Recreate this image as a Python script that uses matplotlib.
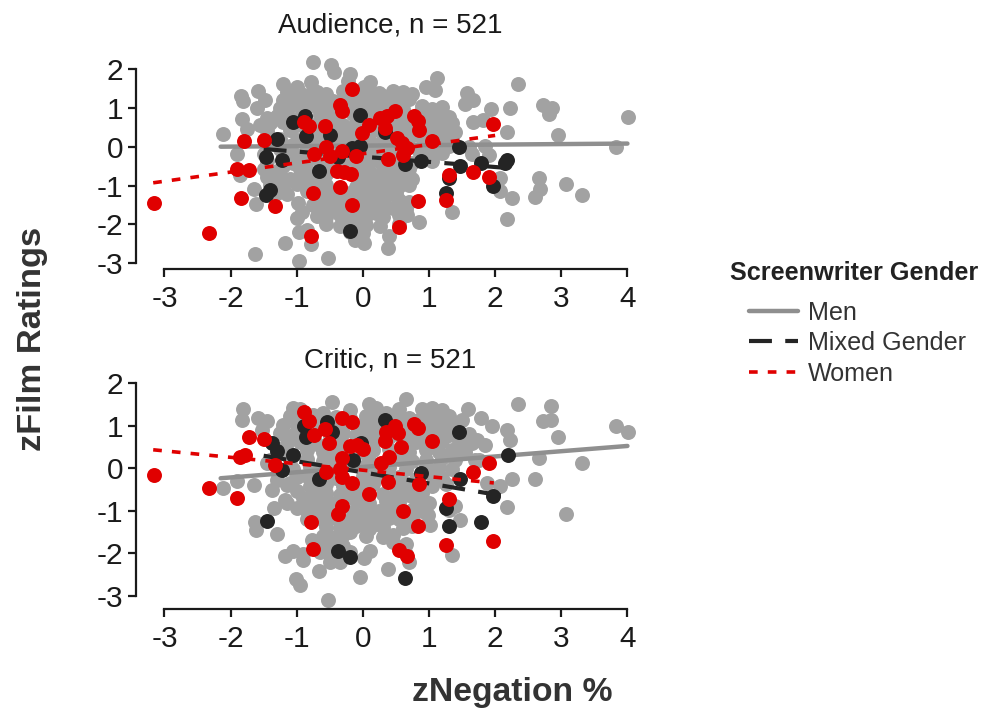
import matplotlib
matplotlib.use("Agg")
import matplotlib.pyplot as plt

plt.rcParams['font.family'] = ['Liberation Sans', 'DejaVu Sans']

# women and mixed gender films
women_audience = [(-3.16,-1.44),(-2.33,-2.22),(-1.84,-1.31),(-1.33,-1.52),(-1.80,0.15),(-1.50,0.17),(-1.90,-0.58),(-1.72,-0.61),
    (-0.89,0.63),(-0.82,0.54),(-0.58,0.54),(-0.34,1.08),(-0.32,0.93),(-0.17,1.49),(-0.74,-0.19),(-0.55,0),(-0.50,-0.23),(-0.32,-0.12),
    (-0.11,-0.23),(-0.39,-0.62),(-0.29,-0.66),(-0.18,-0.70),(-0.34,-1.05),(-0.76,-1.20),(-0.17,-1.49),(-0.78,-2.29),(-0.02,0.35),(0.10,0.55),
    (0.26,0.74),(0.36,0.80),(0.48,0.93),(0.34,0.48),(0.51,0.22),(0.59,0.09),(0.67,-0.03),(0.61,-0.21),(0.38,-0.31),(0.77,0.78),
    (0.83,0.65),(0.85,0.44),(1.04,0.14),(0.83,-1.41),(0.55,-2.08),(1.30,-0.72),(1.25,-1.38),(1.66,-0.64),(1.91,-0.79),(1.96,0.58)]
mixed_audience = [(-1.06,0.63),(-0.88,0.80),(-0.86,0.27),(-0.49,0.31),(-1.30,0.21),(-1.47,-0.27),(-1.23,-0.35),(-0.66,-0.62),(-1.40,-1.11),
    (-1.46,-1.24),(-0.04,0.82),(-0.04,0.01),(-0.17,-0.03),(-0.37,-0.27),(0.33,0.37),(0.63,-0.45),(0.88,-0.38),(1.45,-0.01),(1.47,-0.51),
    (1.79,-0.42),(2.18,-0.35),(2.15,-0.42),(1.96,-1.00),(1.30,-0.81),(1.25,-1.18),(-0.19,-2.16)]
men_audience = [(-0.76,2.17),(-0.48,2.11),(-0.43,1.92),(-0.19,1.87),(-0.22,1.68),(-1.20,1.62),(-1.00,1.55),(-0.78,1.67),(-0.75,1.47),(0.11,1.66),
    (0.01,1.55),(1.12,1.77),(0.96,1.53),(1.09,1.47),(2.35,1.62),(-1.84,1.31),(-1.81,1.17),(-1.58,1.43),(-1.48,1.21),(-1.60,1.00),(1.58,1.38),
    (1.67,1.21),(1.54,1.10),(1.94,0.98),(2.23,1.00),(2.73,1.07),(2.86,1.00),(2.82,0.85),(4.01,0.77),(-1.82,0.72),(-1.45,0.74),(-1.55,0.57),
    (-1.75,0.46),(-2.12,0.32),(1.67,0.63),(1.82,0.70),(2.18,0.38),(2.95,0.31),(3.82,-0.01),(-1.90,-0.19),(-1.86,-0.72),(-1.64,-1.08),(-1.62,-1.48),
    (2.66,-0.81),(2.68,-1.08),(2.60,-1.30),(3.07,-0.96),(3.32,-1.24),(2.08,-0.81),(2.08,-1.15),(2.26,-1.32),(2.18,-1.86),(1.35,-1.69),(0.85,-1.95),
    (0.67,-1.75),(0.38,-2.61),(0.40,-2.31),(0.26,-2.05),(0.01,-2.47),(-0.12,-2.40),(-0.53,-2.87),(-0.96,-2.94),(-1.63,-2.77),(-1.18,-2.48),(-0.78,-2.50),
    (-0.97,-2.20),(-0.85,-2.14),(-1.00,-1.84),(-0.92,-1.67),(-0.98,-1.45),
    (-1.15,1.42),(-0.95,1.38),(-0.7,1.41),(-0.55,1.36),(-0.3,1.44),(-0.1,1.39),(0.1,1.42),(0.25,1.37),(0.45,1.43),(0.6,1.4),
    (-1.2,1.2),(-1.05,1.24),(-0.85,1.18),(-0.6,1.22),(-0.45,1.17),(-0.15,1.23),(0.05,1.19),(0.2,1.21),(0.4,1.25),(0.55,1.18),(0.7,1.22),
    (-1.25,1.0),(-1.1,1.04),(-0.9,0.98),(-0.7,1.03),(-0.55,0.97),(-0.2,1.02),(0.0,0.99),(0.15,1.05),(0.35,1.0),(0.6,0.96),(0.9,1.04),(1.05,0.98),(1.2,1.03),
    (-1.3,0.8),(-1.15,0.84),(-0.95,0.77),(-0.65,0.82),(-0.45,0.79),(-0.15,0.83),(0.1,0.78),(0.25,0.85),(0.55,0.76),(0.85,0.83),(1.0,0.79),(1.2,0.82),(1.3,0.77),
    (-1.4,0.6),(-1.2,0.63),(-0.7,0.58),(-0.5,0.62),(-0.3,0.57),(-0.05,0.61),(0.2,0.64),(0.45,0.58),(0.65,0.6),(0.95,0.63),(1.15,0.57),(1.35,0.62),
    (-1.45,0.4),(-1.1,0.43),(-0.85,0.38),(-0.55,0.44),(-0.35,0.37),(-0.1,0.41),(0.15,0.44),(0.55,0.37),(0.75,0.42),(1.0,0.38),(1.2,0.43),(1.4,0.39),
    (-1.25,0.2),(-1.0,0.17),(-0.7,0.23),(-0.4,0.18),(-0.2,0.22),(0.1,0.17),(0.3,0.21),(0.5,0.16),(0.7,0.23),(0.95,0.19),(1.15,0.22),(1.35,0.18),
    (-1.1,0.02),(-0.85,-0.03),(-0.6,0.03),(-0.3,-0.02),(0.0,0.03),(0.2,-0.03),(0.45,0.02),(0.7,-0.02),(0.9,0.03),(1.1,-0.03),(1.3,0.02),(1.6,-0.01),(1.85,0.02),
    (-1.5,-0.18),(-1.0,-0.22),(-0.8,-0.17),(-0.15,-0.21),(0.1,-0.18),(0.3,-0.23),(0.55,-0.19),(0.95,-0.22),(1.2,-0.17),(1.65,-0.2),(1.9,-0.22),
    (-1.45,-0.38),(-1.05,-0.42),(-0.85,-0.37),(-0.55,-0.43),(-0.2,-0.38),(0.05,-0.42),(0.25,-0.37),(0.5,-0.41),(0.75,-0.43),(1.05,-0.38),
    (-1.5,-0.58),(-1.3,-0.62),(-0.95,-0.57),(-0.85,-0.63),(-0.1,-0.58),(0.1,-0.62),(0.3,-0.57),(0.55,-0.62),(0.7,-0.58),
    (-1.45,-0.78),(-1.1,-0.82),(-0.95,-0.77),(-0.8,-0.83),(-0.1,-0.79),(0.15,-0.77),(0.3,-0.82),(0.6,-0.78),(0.75,-0.83),
    (-1.4,-0.98),(-1.2,-1.03),(-1.0,-0.97),(-0.75,-1.02),(-0.55,-0.98),(-0.1,-1.03),(0.25,-0.97),(0.55,-1.02),(0.7,-0.98),
    (-1.3,-1.18),(-1.15,-1.22),(-0.6,-1.17),(-0.4,-1.23),(-0.2,-1.18),(0.05,-1.22),(0.5,-1.18),
    (-0.6,-1.38),(-0.4,-1.42),(-0.25,-1.37),(0.0,-1.43),(0.15,-1.38),(0.3,-1.42),(0.55,-1.37),(0.7,-1.42),
    (-0.65,-1.58),(-0.5,-1.62),(-0.3,-1.57),(-0.1,-1.63),(0.1,-1.58),(0.25,-1.62),(0.45,-1.58),
    (-0.7,-1.78),(-0.55,-1.82),(-0.35,-1.77),(-0.1,-1.83),(0.05,-1.78),(0.3,-1.82),(0.55,-1.77),
    (-0.55,-1.98),(-0.35,-2.03),(-0.15,-1.97),(0.05,-2.02),(0.55,-1.98),(-0.2,-2.2),(0.0,-2.23),
    (-0.8,1.3),(-0.25,1.3),(0.3,1.3),(0.75,1.35),(-1.0,1.1),(-0.4,1.05),(0.5,1.05),(-0.55,0.72),(0.0,0.72),(0.4,0.68),(0.75,0.68),(-1.0,0.55),(-0.15,0.5),
    (0.35,0.3),(0.85,0.3),(-0.55,0.12),(-0.05,0.12),(-1.25,-0.05),(-0.45,-0.1),(0.35,-0.1),(0.85,-0.12),(-1.2,-0.2),(-0.65,-0.35),(-0.35,-0.45),(0.4,-0.5),
    (-1.2,-0.5),(-0.65,-0.55),(-0.55,-0.7),(0.0,-0.7),(0.45,-0.68),(-1.25,-0.72),(-0.7,-0.85),(0.45,-0.92),(-1.3,-0.88),(-0.85,-0.95),(0.05,-0.92),
    (-0.85,-1.15),(-0.05,-1.1),(0.2,-1.15),(0.4,-1.05),(-0.5,-1.25),(0.35,-1.28),(-0.75,-1.5),(0.0,-1.3),(-0.2,-1.5),(0.65,-1.6),(0.2,-1.72),(-0.2,-1.9)]

women_critic = [(-3.16,-0.17),(-2.33,-0.48),(-1.90,-0.71),(-1.86,0.25),(-1.78,0.31),(-1.72,0.72),(-1.50,0.69),(-1.33,0.08),(-0.89,1.32),(-0.82,1.11),
    (-0.74,0.77),(-0.58,0.93),(-0.51,0.60),(-0.55,-0.09),(-0.32,1.18),(-0.17,1.08),(-0.32,0.24),(-0.34,-0.02),(-0.32,-0.21),(-0.17,-0.35),(-0.19,0.53),
    (-0.09,0.55),(0,0.45),(-0.32,-0.90),(-0.38,-1.08),(-0.78,-1.28),(-0.76,-1.91),(0.10,-0.60),(0.38,-0.33),(0.27,0.13),(0.39,0.27),(0.33,0.63),
    (0.35,0.86),(0.48,1.00),(0.53,0.82),(0.58,0.49),(0.78,1.04),(0.84,0.94),(1.04,0.63),(0.85,-0.37),(0.60,-1.00),(0.83,-1.36),(0.55,-1.92),
    (0.66,-2.06),(1.30,-0.73),(1.25,-1.80),(1.66,-0.10),(1.91,0.12),(1.96,-1.71)]
mixed_critic = [(-1.45,-1.25),(-1.38,0.60),(-1.30,0.39),(-1.22,-0.04),(-1.05,0.31),(-0.89,0.98),(-0.86,0.72),(-0.54,1.08),(-0.47,0.85),(-0.66,-0.25),
    (-0.03,0.59),(-0.15,0.18),(-0.38,-1.95),(-0.19,-2.10),(0.33,1.12),(0.88,-0.12),(0.63,-2.59),(1.45,0.84),(1.47,-0.25),(1.25,-0.94),(1.30,-1.37),
    (1.79,-1.28),(1.96,-0.65),(2.19,0.30)]
men_critic = [(-0.46,1.55),(0.65,1.62),(-1.81,1.39),(-1.82,1.14),(-1.58,1.18),(-1.45,1.10),(-1.53,0.90),(-1.05,1.41),(2.35,1.51),(2.85,1.47),(2.73,1.10),
    (2.85,1.12),(2.95,0.73),(3.82,1.00),(4.01,0.84),(1.59,1.39),(1.50,1.14),(1.78,1.18),(1.95,0.98),(2.18,0.90),(2.23,0.67),(1.72,0.67),(1.85,0.55),
    (2.66,0.24),(3.32,0.12),(2.25,-0.26),(2.60,-0.25),(1.88,-0.34),(2.08,-0.43),(2.18,-0.92),(3.07,-1.08),(-2.12,-0.47),(-1.90,-0.31),(-1.64,-0.39),
    (-1.63,-1.28),(-1.62,-1.45),(-1.30,-1.55),(-1.35,-0.94),(-1.38,-0.51),(-1.10,-0.35),(-1.17,-0.75),(-1.00,-0.94),(1.35,-2.04),(1.02,-1.33),(1.47,-1.22),
    (1.40,-0.90),(0.99,-1.10),(-1.17,-2.08),(-1.05,-1.96),(-0.90,-2.16),(-0.66,-2.43),(-1.01,-2.61),(-0.95,-2.75),(-0.04,-2.57),(-0.53,-3.10),(0.38,-2.38),
    (0.69,-2.20),(0.11,-1.95),(0.01,-2.12),(-0.49,-2.20),(-0.34,-2.20),(-0.77,-1.69),
    (-0.95,1.4),(-0.2,1.37),(0.1,1.5),(0.2,1.42),(0.55,1.38),(0.9,1.4),(1.05,1.42),(1.2,1.37),
    (-1.1,1.22),(-0.95,1.18),(-0.75,1.24),(-0.4,1.2),(-0.2,1.17),(0.05,1.23),(0.25,1.19),(0.5,1.22),(0.7,1.18),(0.95,1.23),(1.15,1.19),(1.3,1.22),
    (-1.2,1.02),(-1.0,0.98),(-0.7,1.03),(-0.35,0.97),(-0.1,1.02),(0.1,0.98),(0.25,1.03),(0.6,0.97),(1.0,1.02),(1.2,0.98),(1.4,1.0),
    (-1.25,0.82),(-1.05,0.78),(-0.3,0.83),(-0.1,0.77),(0.05,0.82),(0.2,0.79),(0.75,0.78),(1.1,0.83),(1.3,0.78),(1.6,0.8),
    (-1.15,0.58),(-0.95,0.62),(-0.7,0.57),(-0.35,0.63),(0.15,0.58),(0.8,0.62),(1.0,0.57),(1.2,0.63),(1.45,0.58),(1.65,0.6),
    (-1.4,0.2),(-1.15,0.38),(-0.85,0.42),(-0.6,0.37),(-0.45,0.43),(0.0,0.38),(0.15,0.42),(0.7,0.37),(0.95,0.42),(1.15,0.38),(1.35,0.42),(1.55,0.38),
    (-1.45,0.12),(-1.1,0.18),(-0.85,0.22),(-0.6,0.17),(-0.45,0.23),(0.1,0.18),(0.55,0.22),(0.75,0.17),(0.95,0.2),(1.2,0.23),(1.4,0.18),(1.7,0.2),
    (-1.05,-0.02),(-0.8,0.03),(-0.65,-0.03),(0.0,0.03),(0.2,-0.02),(0.4,0.03),(0.65,-0.03),(1.15,0.02),(1.35,-0.02),(1.75,0.2),
    (-1.3,-0.28),(-1.0,-0.22),(-0.85,-0.18),(-0.4,-0.23),(0.0,-0.18),(0.2,-0.22),(0.55,-0.2),(1.05,-0.17),(1.2,-0.23),
    (-1.15,-0.4),(-0.8,-0.42),(-0.55,-0.37),(-0.05,-0.43),(0.15,-0.38),(0.55,-0.42),(0.7,-0.38),(1.05,-0.42),(1.25,-0.38),
    (-0.75,-0.62),(-0.55,-0.58),(-0.35,-0.63),(-0.1,-0.58),(0.3,-0.62),(0.5,-0.58),(0.7,-0.63),(0.9,-0.58),
    (-1.15,-0.82),(-0.7,-0.78),(-0.5,-0.83),(-0.1,-0.78),(0.1,-0.82),(0.35,-0.77),(0.55,-0.83),(0.8,-0.78),(1.0,-0.82),
    (-0.7,-1.02),(-0.5,-0.98),(-0.15,-1.03),(0.05,-0.97),(0.25,-1.02),(0.4,-1.0),(0.75,-0.98),(0.9,-1.02),(1.3,-0.98),
    (-0.6,-1.22),(-0.4,-1.18),(-0.2,-1.23),(0.0,-1.18),(0.2,-1.22),(0.4,-1.18),(0.65,-1.23),(0.75,-1.18),
    (-0.55,-1.38),(-0.35,-1.42),(-0.1,-1.37),(0.1,-1.43),(0.3,-1.38),(0.6,-1.42),(0.75,-1.37),
    (-0.5,-1.62),(-0.3,-1.58),(0.3,-1.62),(0.45,-1.58),(-0.7,-1.82),(-0.55,-1.78),(-0.3,-1.83),(0.65,-1.78),
    (-0.9,-2.02),(-0.65,-1.98),(-0.5,-2.03),(-0.2,-1.98),(0.65,-2.02),
    (-0.6,1.3),(0.35,1.3),(-0.55,1.1),(0.4,1.1),(0.8,1.1),(-0.5,0.75),(0.4,0.72),(0.95,0.75),(-0.55,0.55),(0.6,0.65),(-0.25,0.4),(0.4,0.45),
    (-0.25,0.1),(0.4,0.12),(0.95,0.05),(-0.45,0.0),(-0.65,-0.45),(-0.3,-0.42),(0.35,-0.2),(0.8,-0.25),(-1.0,-0.55),(-0.9,-0.7),(-0.85,-0.85),(-0.2,-0.65),
    (0.45,-0.75),(0.2,-1.1),(-0.85,-1.0),(-0.55,-0.8),(0.55,-1.2),(-0.85,-1.2),(-0.2,-1.5),(0.05,-1.6),(-0.6,-1.6),(0.15,-1.35),(0.45,-1.75),(-0.45,-1.8)]

# fit lines, ends
men_line_audience = [(-2.15,0.0),(4.0,0.08)]
mixed_line_audience = [(-1.5,-0.06),(2.2,-0.55)]
women_line_audience = [(-3.17,-0.93),(2.0,0.29)]
men_line_critic = [(-2.15,-0.24),(4.0,0.52)]
mixed_line_critic = [(-1.5,0.29),(2.22,-0.68)]
women_line_critic = [(-3.17,0.43),(1.98,-0.35)]

x_ticks = [-3,-2,-1,0,1,2,3,4]
y_ticks = [-3,-2,-1,0,1,2]
titles = ["Audience, n = 521", "Critic, n = 521"]
legend_labels = ["Men", "Mixed Gender", "Women"]

GREY = '#a2a2a2'
GREY_LINE = '#8f8f8f'
BLACK = '#242424'
RED = '#e00000'

W, H = 990, 708
fig = plt.figure(figsize=(9.9, 7.08), dpi=100)


def make_panel(top, bottom, ylim, title, title_y, men, mixed, women, men_line, mixed_line, women_line):
    ax = fig.add_axes([136/W, 1 - bottom/H, 504/W, (bottom - top)/H])
    for pts, col, z in [(men, GREY, 1), (mixed, BLACK, 3), (women, RED, 5)]:
        ax.scatter([p[0] for p in pts], [p[1] for p in pts], s=116, color=col, linewidths=0, zorder=z, clip_on=False)
    h1, = ax.plot(*zip(*men_line), color=GREY_LINE, lw=3.2, zorder=2, solid_capstyle='round')
    h2, = ax.plot(*zip(*mixed_line), color=BLACK, lw=3.0, zorder=4, dashes=(5.5, 3.2))
    h3, = ax.plot(*zip(*women_line), color=RED, lw=2.6, zorder=6, dashes=(2.4, 2.8))
    ax.set_xlim(-3.43, 4.19)
    ax.set_ylim(*ylim)
    ax.set_xticks(x_ticks)
    ax.set_yticks(y_ticks)
    ax.set_xticklabels([str(v) for v in x_ticks])
    ax.set_yticklabels([str(v) for v in y_ticks])
    ax.spines['top'].set_visible(False)
    ax.spines['right'].set_visible(False)
    ax.spines['left'].set_bounds(-3, 2)
    ax.spines['bottom'].set_bounds(-3, 4)
    for s in ['left', 'bottom']:
        ax.spines[s].set_linewidth(1.6)
        ax.spines[s].set_color('#1a1a1a')
    ax.tick_params(length=6, width=1.6, color='#1a1a1a', labelsize=21.5, labelcolor='#1a1a1a')
    ax.tick_params(axis='x', pad=5.5)
    ax.tick_params(axis='y', pad=3)
    ax.patch.set_alpha(0)
    fig.text(390/W, 1 - title_y/H, title, fontsize=20, ha='center', va='center', color='#1a1a1a')
    return h1, h2, h3


handles = make_panel(50, 269, (-3.15, 2.49), titles[0], 25, men_audience, mixed_audience, women_audience,
                     men_line_audience, mixed_line_audience, women_line_audience)
make_panel(375, 608.7, (-3.31, 2.19), titles[1], 360.5, men_critic, mixed_critic, women_critic,
           men_line_critic, mixed_line_critic, women_line_critic)

fig.text(33/W, 1 - 339/H, "zFilm Ratings", fontsize=24.8, fontweight='bold', rotation=90, ha='center', va='center', color='#333333')
fig.text(512/W, 1 - 692/H, "zNegation %", fontsize=24.3, fontweight='bold', ha='center', va='center', color='#333333')

fig.text(730/W, 1 - 273/H, "Screenwriter Gender", fontsize=18.2, fontweight='bold', ha='left', va='center', color='#222222')
leg = fig.legend(handles, legend_labels, loc='upper left', bbox_to_anchor=(749/W, 1 - 301/H), frameon=False,
                 fontsize=18.1, handlelength=1.95, handletextpad=0.4, labelspacing=0.25, borderpad=0, borderaxespad=0)
for t in leg.get_texts():
    t.set_color('#333333')

fig.savefig("out.png", dpi=100)
